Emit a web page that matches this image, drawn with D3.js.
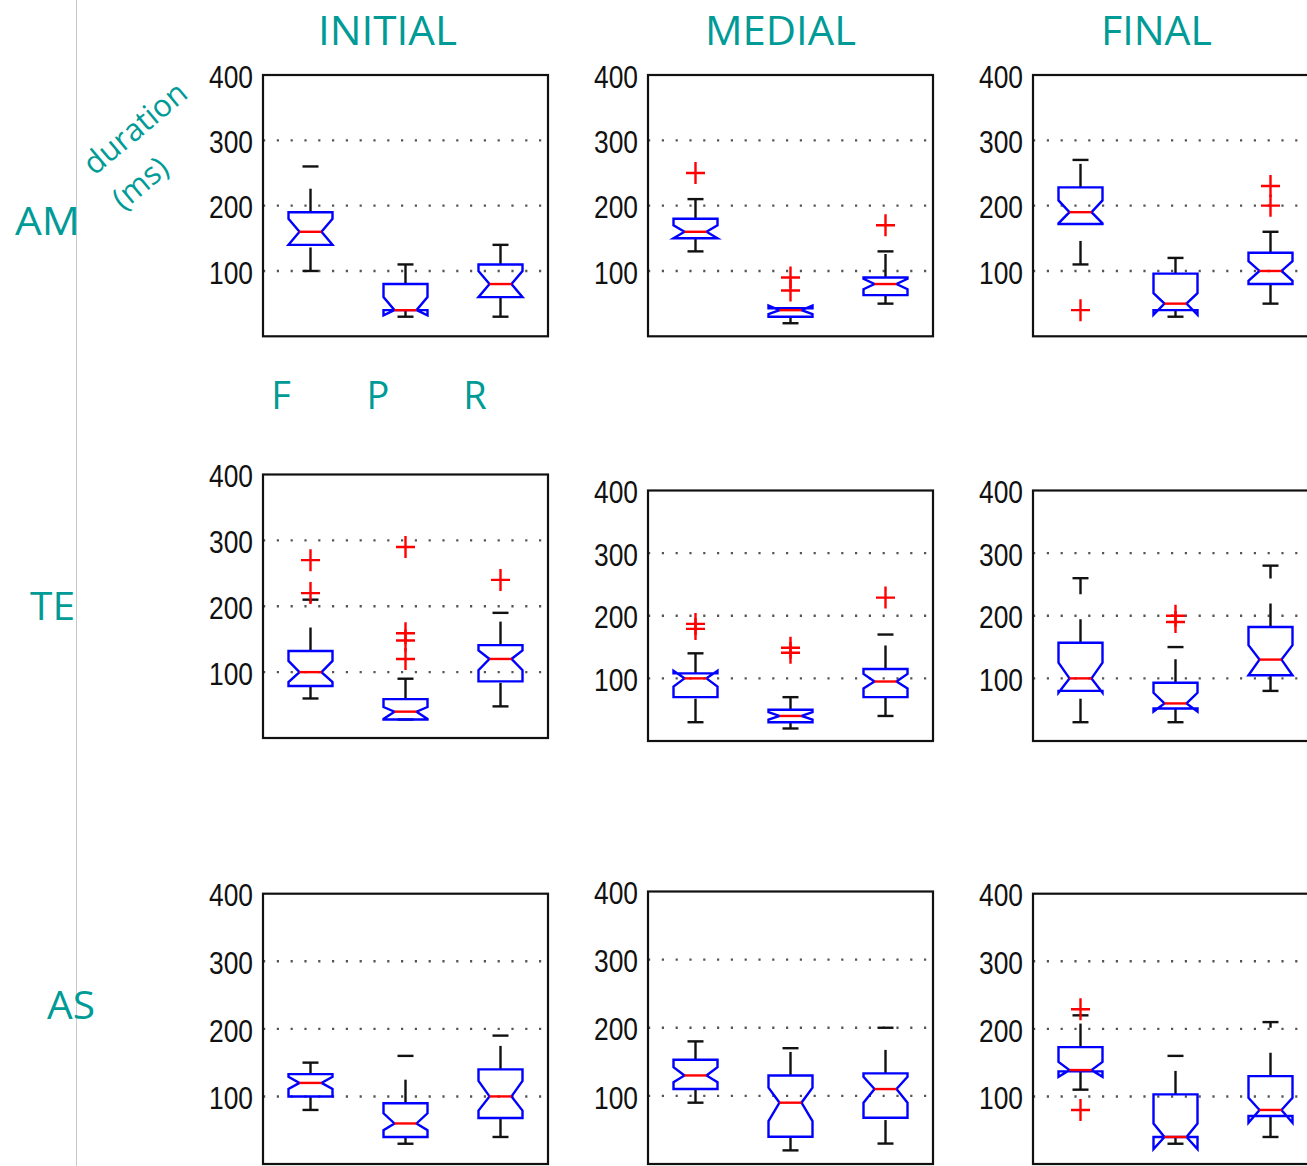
<!DOCTYPE html>
<html>
<head>
<meta charset="utf-8">
<script src="https://cdn.jsdelivr.net/npm/d3@7"></script>
<style>
  html, body { margin: 0; padding: 0; background: #fff; }
  svg { display: block; }
</style>
</head>
<body>
<script>
// Word positions (columns), context groups (rows) and consonant classes (boxes)
const positions = ["INITIAL", "MEDIAL", "FINAL"];
const contexts = ["AM", "TE", "AS"];
const categories = ["F", "P", "R"];
const yTicks = [100, 200, 300, 400];

// Duration summaries in ms: whisker ends (lo/hi), quartiles, median,
// notch limits (nlo/nhi) and outliers, one entry per consonant class.
const amInitial = [
  { c: "F", lo: 100, q1: 140, nlo: 140, med: 160, nhi: 180, q3: 190, hi: 260, out: [] },
  { c: "P", lo: 30, q1: 40, nlo: 32, med: 40, nhi: 60, q3: 80, hi: 110, out: [] },
  { c: "R", lo: 30, q1: 60, nlo: 60, med: 80, nhi: 100, q3: 110, hi: 140, out: [] }
];
const amMedial = [
  { c: "F", lo: 130, q1: 150, nlo: 150, med: 160, nhi: 170, q3: 180, hi: 210, out: [250] },
  { c: "P", lo: 20, q1: 30, nlo: 34, med: 40, nhi: 47, q3: 43, hi: 43, out: [70, 90] },
  { c: "R", lo: 50, q1: 63, nlo: 72, med: 80, nhi: 88, q3: 90, hi: 130, out: [170] }
];
const amFinal = [
  { c: "F", lo: 110, q1: 172, nlo: 173, med: 190, nhi: 208, q3: 228, hi: 270, out: [40] },
  { c: "P", lo: 30, q1: 40, nlo: 33, med: 50, nhi: 66, q3: 96, hi: 120, out: [] },
  { c: "R", lo: 50, q1: 80, nlo: 85, med: 100, nhi: 115, q3: 128, hi: 160, out: [200, 230] }
];
const teInitial = [
  { c: "F", lo: 60, q1: 79, nlo: 85, med: 100, nhi: 117, q3: 132, hi: 210, out: [220, 270] },
  { c: "P", lo: 28, q1: 28, nlo: 29, med: 40, nhi: 47, q3: 59, hi: 90, out: [120, 148, 159, 290] },
  { c: "R", lo: 48, q1: 86, nlo: 103, med: 120, nhi: 133, q3: 141, hi: 190, out: [240] }
];
const teMedial = [
  { c: "F", lo: 30, q1: 70, nlo: 87, med: 100, nhi: 112, q3: 108, hi: 140, out: [179, 187] },
  { c: "P", lo: 20, q1: 30, nlo: 34, med: 40, nhi: 46, q3: 50, hi: 70, out: [141, 149] },
  { c: "R", lo: 40, q1: 70, nlo: 84, med: 95, nhi: 107, q3: 115, hi: 170, out: [229] }
];
const teFinal = [
  { c: "F", lo: 30, q1: 80, nlo: 77, med: 100, nhi: 125, q3: 157, hi: 260, out: [] },
  { c: "P", lo: 30, q1: 52, nlo: 47, med: 60, nhi: 77, q3: 93, hi: 150, out: [190, 200] },
  { c: "R", lo: 80, q1: 105, nlo: 105, med: 130, nhi: 153, q3: 182, hi: 280, out: [] }
];
const asInitial = [
  { c: "F", lo: 80, q1: 100, nlo: 111, med: 120, nhi: 129, q3: 133, hi: 150, out: [] },
  { c: "P", lo: 30, q1: 40, nlo: 50, med: 60, nhi: 75, q3: 90, hi: 160, out: [] },
  { c: "R", lo: 40, q1: 68, nlo: 79, med: 100, nhi: 123, q3: 140, hi: 190, out: [] }
];
const asMedial = [
  { c: "F", lo: 90, q1: 110, nlo: 120, med: 130, nhi: 142, q3: 153, hi: 180, out: [] },
  { c: "P", lo: 20, q1: 40, nlo: 63, med: 90, nhi: 112, q3: 130, hi: 170, out: [] },
  { c: "R", lo: 30, q1: 68, nlo: 90, med: 110, nhi: 128, q3: 133, hi: 200, out: [] }
];
const asFinal = [
  { c: "F", lo: 110, q1: 137, nlo: 129, med: 139, nhi: 151, q3: 173, hi: 220, out: [80, 229] },
  { c: "P", lo: 30, q1: 40, nlo: 22, med: 40, nhi: 60, q3: 103, hi: 160, out: [] },
  { c: "R", lo: 40, q1: 71, nlo: 61, med: 80, nhi: 98, q3: 130, hi: 210, out: [] }
];

const panelData = [
  [amInitial, amMedial, amFinal],
  [teInitial, teMedial, teFinal],
  [asInitial, asMedial, asFinal]
];

// ---- layout ----
const W = 1307, H = 1166;
const TEAL = "#009b96";
const panelW = 285;
const colX = [263, 648, 1033];
// vertical extent (value 400 at top, 0 at bottom) of each panel, per row and column
const frames = [
  [[75, 336.3], [75, 336.3], [75, 336.3]],
  [[474.5, 738], [490.5, 741], [490.5, 741]],
  [[893.7, 1164], [891.5, 1164], [893.7, 1164]]
];
const boxHalf = 22, notchInset = 11, capHalf = 8;
const LW = 2.4;

const svg = d3.select("body").append("svg")
  .attr("width", W).attr("height", H)
  .attr("viewBox", `0 0 ${W} ${H}`);

// thin separator on the left
svg.append("line")
  .attr("x1", 76.5).attr("x2", 76.5).attr("y1", 0).attr("y2", H)
  .attr("stroke", "#c9c9c9").attr("stroke-width", 1);

// column titles
const titleSpecs = [
  { x: 387.5, w: 139 },
  { x: 780.5, w: 151 },
  { x: 1156.5, w: 111 }
];
positions.forEach((p, i) => {
  svg.append("text")
    .attr("x", titleSpecs[i].x).attr("y", 45)
    .attr("text-anchor", "middle")
    .attr("font-family", "'Open Sans', 'Noto Sans', sans-serif")
    .attr("font-size", 40)
    .attr("fill", TEAL)
    .attr("textLength", titleSpecs[i].w)
    .attr("lengthAdjust", "spacingAndGlyphs")
    .text(p);
});

// row labels
const rowLabelSpecs = [
  { x: 47.5, y: 235, w: 65 },
  { x: 52.5, y: 620, w: 45 },
  { x: 71, y: 1019, w: 48 }
];
contexts.forEach((c, i) => {
  svg.append("text")
    .attr("x", rowLabelSpecs[i].x).attr("y", rowLabelSpecs[i].y)
    .attr("text-anchor", "middle")
    .attr("font-family", "'Open Sans', 'Noto Sans', sans-serif")
    .attr("font-size", 39)
    .attr("fill", TEAL)
    .attr("textLength", rowLabelSpecs[i].w)
    .attr("lengthAdjust", "spacingAndGlyphs")
    .text(c);
});

// y-axis title, set diagonally in two lines
const yTitle = svg.append("g")
  .attr("font-family", "'Open Sans', 'Noto Sans', sans-serif")
  .attr("font-size", 31)
  .attr("fill", TEAL)
  .attr("text-anchor", "middle");
yTitle.append("text")
  .attr("transform", "translate(135,128) rotate(-40)")
  .attr("dy", "0.35em")
  .text("duration");
yTitle.append("text")
  .attr("transform", "translate(140,183) rotate(-40)")
  .attr("dy", "0.35em")
  .text("(ms)");

// ---- panels ----
function boxPath(d, cx, y) {
  const L = cx - boxHalf, R = cx + boxHalf;
  const pts = [
    [L, y(d.q1)], [L, y(d.nlo)], [L + notchInset, y(d.med)], [L, y(d.nhi)], [L, y(d.q3)],
    [R, y(d.q3)], [R, y(d.nhi)], [R - notchInset, y(d.med)], [R, y(d.nlo)], [R, y(d.q1)]
  ];
  return d3.line()(pts) + "Z";
}

panelData.forEach((row, r) => {
  row.forEach((stats, c) => {
    const [top, bottom] = frames[r][c];
    const x0 = colX[c];
    const y = d3.scaleLinear().domain([0, 400]).range([bottom, top]);
    const x = d3.scaleBand().domain(categories).range([x0, x0 + panelW]);
    const g = svg.append("g");

    // dotted grid
    g.selectAll("line.grid")
      .data(yTicks.filter(t => t < 400))
      .join("line")
      .attr("class", "grid")
      .attr("x1", x0).attr("x2", x0 + panelW)
      .attr("y1", d => y(d)).attr("y2", d => y(d))
      .attr("stroke", "#555").attr("stroke-width", 2.4)
      .attr("stroke-dasharray", "2.2 11.6");

    // y axis labels
    const axis = g.append("g")
      .attr("transform", `translate(${x0},0)`)
      .call(d3.axisLeft(y).tickValues(yTicks).tickSize(0).tickPadding(10));
    axis.select(".domain").remove();
    axis.selectAll("text")
      .attr("font-family", "'Liberation Sans', Arial, sans-serif")
      .attr("font-size", 32)
      .attr("fill", "#111")
      .attr("dy", "0.38em")
      .attr("textLength", 44)
      .attr("lengthAdjust", "spacingAndGlyphs");

    const boxes = g.selectAll("g.box").data(stats).join("g").attr("class", "box");
    const cxOf = d => x(d.c) + x.bandwidth() / 2;

    // whiskers (dashed), drawn upward from the lower end
    boxes.append("line")
      .attr("x1", cxOf).attr("x2", cxOf)
      .attr("y1", d => y(d.q3)).attr("y2", d => y(d.hi))
      .attr("stroke", "#111").attr("stroke-width", LW)
      .attr("stroke-dasharray", "23.5 25");
    boxes.append("line")
      .attr("x1", cxOf).attr("x2", cxOf)
      .attr("y1", d => y(d.lo)).attr("y2", d => y(d.q1))
      .attr("stroke", "#111").attr("stroke-width", LW)
      .attr("stroke-dasharray", "23.5 25");
    // whisker caps
    ["lo", "hi"].forEach(k => {
      boxes.append("line")
        .attr("x1", d => cxOf(d) - capHalf).attr("x2", d => cxOf(d) + capHalf)
        .attr("y1", d => y(d[k])).attr("y2", d => y(d[k]))
        .attr("stroke", "#111").attr("stroke-width", LW);
    });

    // notched box
    boxes.append("path")
      .attr("d", d => boxPath(d, cxOf(d), y))
      .attr("fill", "none")
      .attr("stroke", "#0000ff").attr("stroke-width", LW)
      .attr("stroke-linejoin", "miter");

    // median
    boxes.append("line")
      .attr("x1", d => cxOf(d) - boxHalf + notchInset).attr("x2", d => cxOf(d) + boxHalf - notchInset)
      .attr("y1", d => y(d.med)).attr("y2", d => y(d.med))
      .attr("stroke", "#ff0000").attr("stroke-width", LW);

    // outliers
    boxes.each(function (d) {
      const cx = cxOf(d);
      d3.select(this).selectAll("path.out")
        .data(d.out)
        .join("path")
        .attr("class", "out")
        .attr("d", v => `M${cx - 9.5},${y(v)}H${cx + 9.5}M${cx},${y(v) - 11}V${y(v) + 11}`)
        .attr("stroke", "#ff0000").attr("stroke-width", LW)
        .attr("fill", "none");
    });

    // frame
    g.append("rect")
      .attr("x", x0).attr("y", top)
      .attr("width", panelW).attr("height", bottom - top)
      .attr("fill", "none")
      .attr("stroke", "#111").attr("stroke-width", 2.2);
  });
});

// class labels under the first panel
const classX = [281, 378, 475];
categories.forEach((c, i) => {
  svg.append("text")
    .attr("x", classX[i]).attr("y", 409)
    .attr("text-anchor", "middle")
    .attr("font-family", "'Open Sans', 'Noto Sans', sans-serif")
    .attr("font-size", 38)
    .attr("fill", TEAL)
    .text(c);
});
</script>
</body>
</html>
